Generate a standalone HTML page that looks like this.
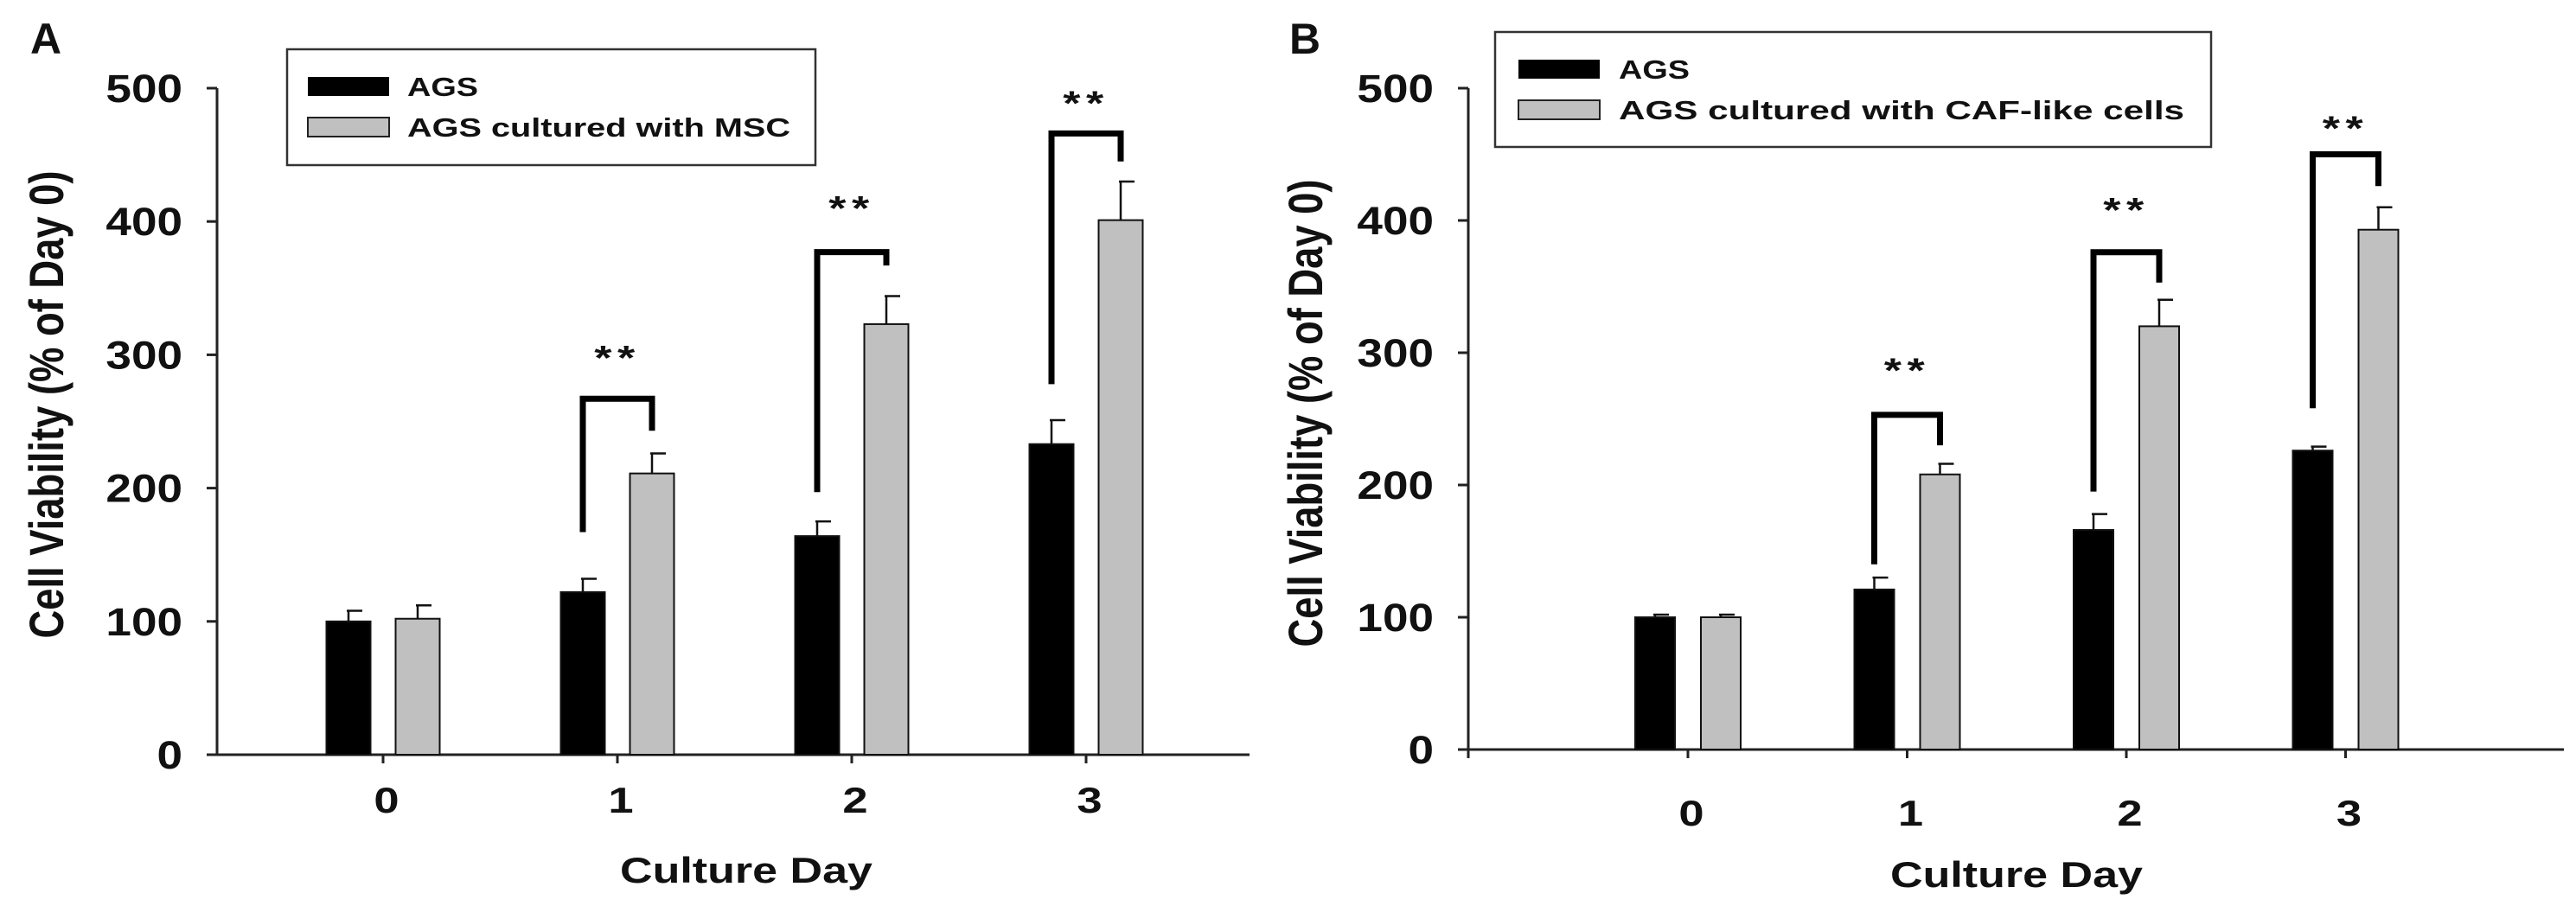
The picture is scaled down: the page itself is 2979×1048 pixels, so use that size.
<!DOCTYPE html>
<html><head><meta charset="utf-8"><style>
html,body{margin:0;padding:0;background:#fff;width:2979px;height:1048px;overflow:hidden}
svg text{font-family:"Liberation Sans",sans-serif;font-weight:bold;fill:#111}
</style></head><body>
<svg id="fig" width="2979" height="1048" xmlns="http://www.w3.org/2000/svg"></svg>
<script>
const categories = ["0","1","2","3"];
const yTicks = [0,100,200,300,400,500];
const aBlack = [100,122,164,233];
const aBlackErr = [8,10,11,18];
const aGrey = [102,211,323,401];
const aGreyErr = [10,15,21,29];
const aBrackets = [null,[167,267,243,302],[197,377,367,414],[278,466,445,493]];
const bBlack = [100,121,166,226];
const bBlackErr = [2,9,12,3];
const bGrey = [100,208,320,393];
const bGreyErr = [2,8,20,17];
const bBrackets = [null,[140,253,230,291],[195,376,353,412],[258,450,426,474]];

const NS="http://www.w3.org/2000/svg";
const svg=document.getElementById('fig');
function el(tag,attrs,parent,text){const e=document.createElementNS(NS,tag);for(const k in attrs)e.setAttribute(k,attrs[k]);if(text!==undefined)e.textContent=text;(parent||svg).appendChild(e);return e;}
function txt(parent,x,y,str,size,anchor,sx,extra){
  const a=Object.assign({x:0,y:0,'text-anchor':anchor,'font-size':size,transform:`translate(${x},${y}) scale(${sx},1)`},extra||{});
  return el('text',a,parent,str);
}

function panel(cfg){
  const g=el('g',{});
  
  
  const y=v=>cfg.y0-(v/500)*(cfg.y0-cfg.y500);
  const x=i=>cfg.t0+i*cfg.step;
  const ya=el('line',{x1:cfg.ax,y1:cfg.y500,x2:cfg.ax,y2:cfg.y0+1,stroke:'#222','stroke-width':3},g);
  
  const xa=el('line',{x1:cfg.ax,y1:cfg.y0,x2:cfg.xend,y2:cfg.y0,stroke:'#222','stroke-width':3},g);
  
  yTicks.forEach(v=>{
    el('line',{x1:cfg.ax-12,y1:y(v),x2:cfg.ax,y2:y(v),stroke:'#222','stroke-width':3},g);
    const t=txt(g,cfg.ax-40,y(v)+16,String(v),45,'end',1.18);
    
  });
  if(cfg.extraTick) el('line',{x1:cfg.ax,y1:cfg.y0,x2:cfg.ax,y2:cfg.y0+10,stroke:'#222','stroke-width':3},g);
  categories.forEach((c,i)=>{
    el('line',{x1:x(i),y1:cfg.y0,x2:x(i),y2:cfg.y0+10,stroke:'#222','stroke-width':3},g);
    const t=txt(g,x(i)+4,cfg.xlabY,c,42,'middle',1.25);
    
  });
  function bar(v,e,cx,fill,name){
    const w=cfg.bw;
    el('line',{x1:cx,y1:y(v),x2:cx,y2:y(v+e),stroke:'#111','stroke-width':2.5},g);
    el('line',{x1:cx-2,y1:y(v+e),x2:cx+16,y2:y(v+e),stroke:'#111','stroke-width':2.5},g);
    const r=el('rect',{x:cx-w/2,y:y(v),width:w,height:y(0)-y(v),fill:fill,stroke:'#111','stroke-width':2},g);
    
  }
  categories.forEach((c,i)=>{
    bar(cfg.black[i],cfg.blackErr[i],x(i)-cfg.off,'#000','bar-ags-day'+c);
    bar(cfg.grey[i],cfg.greyErr[i],x(i)+cfg.off,'#c0c0c0','bar-cocultured-day'+c);
    const b=cfg.brackets[i];
    if(b){
      const lx=x(i)-cfg.off, rx=x(i)+cfg.off;
      const p=el('path',{d:`M${lx} ${y(b[0])} L${lx} ${y(b[1])} L${rx} ${y(b[1])} L${rx} ${y(b[2])}`,fill:'none',stroke:'#000','stroke-width':7},g);
      
      const s=txt(g,x(i),y(b[3])+20,'**',40,'middle',1.3,{'font-weight':'normal','letter-spacing':5});
      
    }
  });
  const yt=el('text',{x:0,y:0,'text-anchor':'middle','font-size':56,textLength:541,lengthAdjust:'spacingAndGlyphs',transform:`translate(${cfg.ytX+20},${cfg.ytY}) rotate(-90)`},g,'Cell Viability (% of Day 0)');
  
  const xt=el('text',{x:cfg.xtX,y:cfg.xtY,'text-anchor':'middle','font-size':42,textLength:292,lengthAdjust:'spacingAndGlyphs'},g,'Culture Day');
  
  const pl=txt(g,cfg.plX,cfg.plY,cfg.letter,50,'middle',1.0);
  
  const L=cfg.leg;
  const lg=el('g',{},g);
  
  el('rect',{x:L.x,y:L.y,width:L.w,height:L.h,fill:'#fff',stroke:'#333','stroke-width':2.5},lg);
  el('rect',{x:L.sx,y:L.r1-11,width:94,height:22,fill:'#000'},lg);
  el('rect',{x:L.sx,y:L.r2-11,width:94,height:22,fill:'#c0c0c0',stroke:'#222','stroke-width':2},lg);
  const t1=el('text',{x:L.tx,y:L.r1+11,'font-size':31,textLength:82,lengthAdjust:'spacingAndGlyphs'},lg,'AGS');
  
  const t2=el('text',{x:L.tx,y:L.r2+11,'font-size':31,textLength:L.tl,lengthAdjust:'spacingAndGlyphs'},lg,L.label);
  
}

panel({id:'panel-a',letter:'A',ax:251,xend:1445,y0:873,y500:102,t0:443,step:271,off:40,bw:51,
  black:aBlack,blackErr:aBlackErr,grey:aGrey,greyErr:aGreyErr,brackets:aBrackets,
  xlabY:940,ytX:53,ytY:468,xtX:863,xtY:1021,plX:53,plY:62,extraTick:false,
  leg:{x:332,y:57,w:611,h:134,sx:356,tx:471,r1:100,r2:147,tl:443,label:'AGS cultured with MSC'}});
panel({id:'panel-b',letter:'B',ax:1698,xend:2965,y0:867,y500:102,t0:1952,step:253.5,off:38,bw:46,
  black:bBlack,blackErr:bBlackErr,grey:bGrey,greyErr:bGreyErr,brackets:bBrackets,
  xlabY:955,ytX:1509,ytY:478,xtX:2332,xtY:1026,plX:1509,plY:62,extraTick:true,
  leg:{x:1729,y:37,w:828,h:133,sx:1756,tx:1872,r1:80,r2:127,tl:654,label:'AGS cultured with CAF-like cells'}});
</script>
</body></html>
